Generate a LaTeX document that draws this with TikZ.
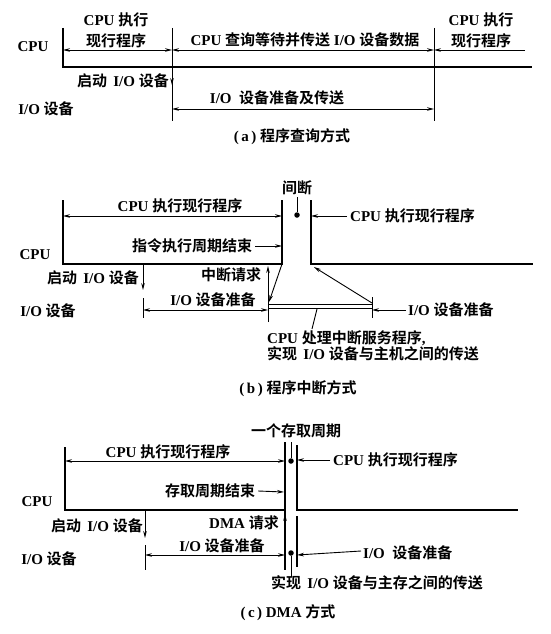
\documentclass[tikz,border=0pt]{standalone}
\usepackage{fontspec}
\setmainfont{Liberation Serif}
\newfontfamily\zhfont{Noto Sans CJK SC}[BoldFont=* Bold]
\newcommand\zh[1]{{\zhfont #1}}
\usetikzlibrary{arrows.meta}
\tikzset{
  txt/.style={inner sep=0pt, font=\fontsize{15}{21}\selectfont\bfseries},
  ln/.style={line width=1.3pt},
  thinln/.style={line width=0.9pt},
  arr/.style={line width=0.9pt, -{Stealth[length=7pt,width=3.6pt]}},
  darr/.style={line width=0.9pt, {Stealth[length=7pt,width=3.6pt]}-{Stealth[length=7pt,width=3.6pt]}},
  dotc/.style={fill=black, circle, inner sep=0pt, minimum size=5.5pt}
}
\begin{document}
\begin{tikzpicture}[x=1pt,y=-1pt]
\useasboundingbox (0,0) rectangle (550,634);
% ================= (a) =================
\node[txt] (aCPU) at (33,47) {CPU};
\node[txt] (aIO) at (46,109) {I/O \zh{设备}};
\coordinate (a0t) at (63,28); \coordinate (a0b) at (63,67);
\coordinate (a1t) at (172,28); \coordinate (a1b) at (172,121);
\coordinate (a2t) at (434,28); \coordinate (a2b) at (434,121);
\coordinate (aEnd) at (532,67);
\draw[ln] (a0t) -- (a0b) -- (aEnd);
\draw[thinln] (a1t) -- (a1b);
\draw[thinln] (a2t) -- (a2b);
\coordinate (aA0) at (63,50); \coordinate (aA1) at (172,50);
\coordinate (aA2) at (434,50); \coordinate (aA3) at (525,50);
\draw[darr] (aA0) -- (aA1);
\draw[darr] (aA1) -- (aA2);
\draw[arr] (aA3) -- (aA2);
\node[txt, align=center] (aT1) at (116,30) {CPU \zh{执行}\\\zh{现行程序}};
\node[txt] (aT2) at (305,40) {CPU \zh{查询等待并传送} I/O \zh{设备数据}};
\node[txt, align=center] (aT3) at (481,30) {CPU \zh{执行}\\\zh{现行程序}};
\node[txt, anchor=east] (aS) at (169,81) {\zh{启动}\ \,I/O \zh{设备}};
\coordinate (aS1) at (172,70); \coordinate (aS2) at (172,85);
\draw[arr] (aS1) -- (aS2);
\coordinate (aB1) at (172,109); \coordinate (aB2) at (434,109);
\draw[darr] (aB1) -- (aB2);
\node[txt] (aT4) at (277,98) {I/O\ \ \zh{设备准备及传送}};
\node[txt] (aCap) at (292,137) {(\,a\,)\ \zh{程序查询方式}};
% ================= (b) =================
\node[txt] (bCPU) at (35,255) {CPU};
\node[txt] (bIO) at (48,311) {I/O \zh{设备}};
\coordinate (b0t) at (63,200); \coordinate (b0b) at (63,264);
\coordinate (b1t) at (282,200); \coordinate (b1b) at (282,264);
\coordinate (b2t) at (311,200); \coordinate (b2b) at (311,264);
\coordinate (bEnd) at (533,264);
\draw[ln] (b0t) -- (b0b) -- (b1b) -- (b1t);
\draw[ln] (b2t) -- (b2b) -- (bEnd);
\coordinate (bA0) at (63,216); \coordinate (bA1) at (282,216);
\draw[darr] (bA0) -- (bA1);
\node[txt] (bT1) at (180,206) {CPU \zh{执行现行程序}};
\node[txt] (bT2) at (192,246) {\zh{指令执行周期结束}};
\coordinate (bA3) at (282,246);
\draw[arr] ([xshift=3pt]bT2.east) -- (bA3);
\node[txt] (bGap) at (297,188) {\zh{间断}};
\node[dotc] (bDot) at (297,215) {};
\draw[thinln] ([yshift=-2pt]bGap.south) -- (bDot);
\node[txt, anchor=west] (bT3) at (350,216) {CPU \zh{执行现行程序}};
\coordinate (bA4) at (311,216);
\draw[arr] ([xshift=-3pt]bT3.west) -- (bA4);
\node[txt, anchor=east] (bS) at (139,278) {\zh{启动}\ \,I/O \zh{设备}};
\coordinate (bS0) at (143,264); \coordinate (bS1) at (143,290);
\draw[arr] (bS0) -- (bS1);
\coordinate (bS2) at (143,298); \coordinate (bS3) at (143,318);
\draw[thinln] (bS2) -- (bS3);
\node[txt] (bReq) at (231,275) {\zh{中断请求}};
\coordinate (bR0) at (268,322); \coordinate (bR1) at (268,266);
\draw[arr] (bR0) -- (bR1);
\coordinate (bD0) at (269,302);
\draw[arr] (b1b) -- (bD0);
\coordinate (bI0) at (143,310); \coordinate (bI1) at (268,310);
\draw[darr] (bI0) -- (bI1);
\node[txt] (bT4) at (213,300) {I/O \zh{设备准备}};
\coordinate (bP0) at (268,304); \coordinate (bP1) at (372,304);
\coordinate (bP2) at (268,308); \coordinate (bP3) at (372,308);
\draw[thinln] (bP0) -- (bP1);
\draw[thinln] (bP2) -- (bP3);
\coordinate (bR2) at (372,297); \coordinate (bR3) at (372,318);
\draw[thinln] (bR2) -- (bR3);
\coordinate (bD1) at (372,303); \coordinate (bD2) at (314,267);
\draw[arr] (bD1) -- (bD2);
\node[txt, anchor=west] (bT5) at (408,310) {I/O \zh{设备准备}};
\coordinate (bI2) at (372,310);
\draw[arr] ([xshift=-2pt]bT5.west) -- (bI2);
\node[txt, anchor=north west, align=left, font=\fontsize{15}{16}\selectfont\bfseries] (bT6) at (267,330)
  {CPU \zh{处理中断服务程序},\\\zh{实现}\ \,I/O \zh{设备与主机之间的传送}};
\coordinate (bQ0) at (317,309);
\draw[thinln] (bQ0) -- ([xshift=45pt,yshift=1pt]bT6.north west);
\node[txt] (bCap) at (298,389) {(\,b\,)\ \zh{程序中断方式}};
% ================= (c) =================
\node[txt] (cCPU) at (37,502) {CPU};
\node[txt] (cIO) at (49,559) {I/O \zh{设备}};
\coordinate (c0t) at (65,447); \coordinate (c0b) at (65,510);
\coordinate (c1t) at (285,442); \coordinate (c1b) at (285,570);
\coordinate (c1m) at (285,510);
\coordinate (c2t) at (297,445); \coordinate (c2b) at (297,510);
\coordinate (cEnd) at (518,510);
\coordinate (c3t) at (297,516); \coordinate (c3b) at (297,567);
\draw[ln] (c0t) -- (c0b) -- (c1m);
\draw[ln] (c1t) -- (c1b);
\draw[ln] (c2t) -- (c2b) -- (cEnd);
\draw[ln] (c3t) -- (c3b);
\coordinate (cA0) at (65,461); \coordinate (cA1) at (285,461);
\draw[darr] (cA0) -- (cA1);
\node[txt] (cT1) at (168,452) {CPU \zh{执行现行程序}};
\node[txt] (cT2) at (210,491) {\zh{存取周期结束}};
\coordinate (cA2) at (284,492);
\draw[arr] ([xshift=3pt]cT2.east) -- (cA2);
\node[txt] (cCyc) at (296,431) {\zh{一个存取周期}};
\node[dotc] (cDot1) at (291,461) {};
\coordinate (cL0) at (291,442);
\draw[thinln] (cL0) -- (cDot1);
\node[txt, anchor=west] (cT3) at (333,460) {CPU \zh{执行现行程序}};
\coordinate (cA3) at (297,460);
\draw[arr] ([xshift=-3pt]cT3.west) -- (cA3);
\node[txt, anchor=east] (cReq) at (279,523) {DMA \zh{请求}};
\coordinate (cR0) at (285,530); \coordinate (cR1) at (285,514);
\draw[arr] (cR0) -- (cR1);
\node[txt, anchor=east] (cS) at (143,526) {\zh{启动}\ \,I/O \zh{设备}};
\coordinate (cS0) at (145,510); \coordinate (cS1) at (145,538);
\draw[arr] (cS0) -- (cS1);
\coordinate (cS2) at (145,545); \coordinate (cS3) at (145,570);
\draw[thinln] (cS2) -- (cS3);
\coordinate (cI0) at (145,555); \coordinate (cI1) at (285,555);
\draw[darr] (cI0) -- (cI1);
\node[txt] (cT4) at (222,546) {I/O \zh{设备准备}};
\node[dotc] (cDot2) at (291,553) {};
\coordinate (cL1) at (291,577);
\draw[thinln] (cDot2) -- (cL1);
\node[txt, anchor=west] (cT5) at (363,553) {I/O\ \ \zh{设备准备}};
\coordinate (cI2) at (297,555);
\draw[arr] ([xshift=-2pt,yshift=2pt]cT5.west) -- (cI2);
\node[txt] (cT6) at (377,583) {\zh{实现}\ \,I/O \zh{设备与主存之间的传送}};
\node[txt] (cCap) at (288,613) {(\,c\,)\ DMA \zh{方式}};
\end{tikzpicture}
\end{document}
